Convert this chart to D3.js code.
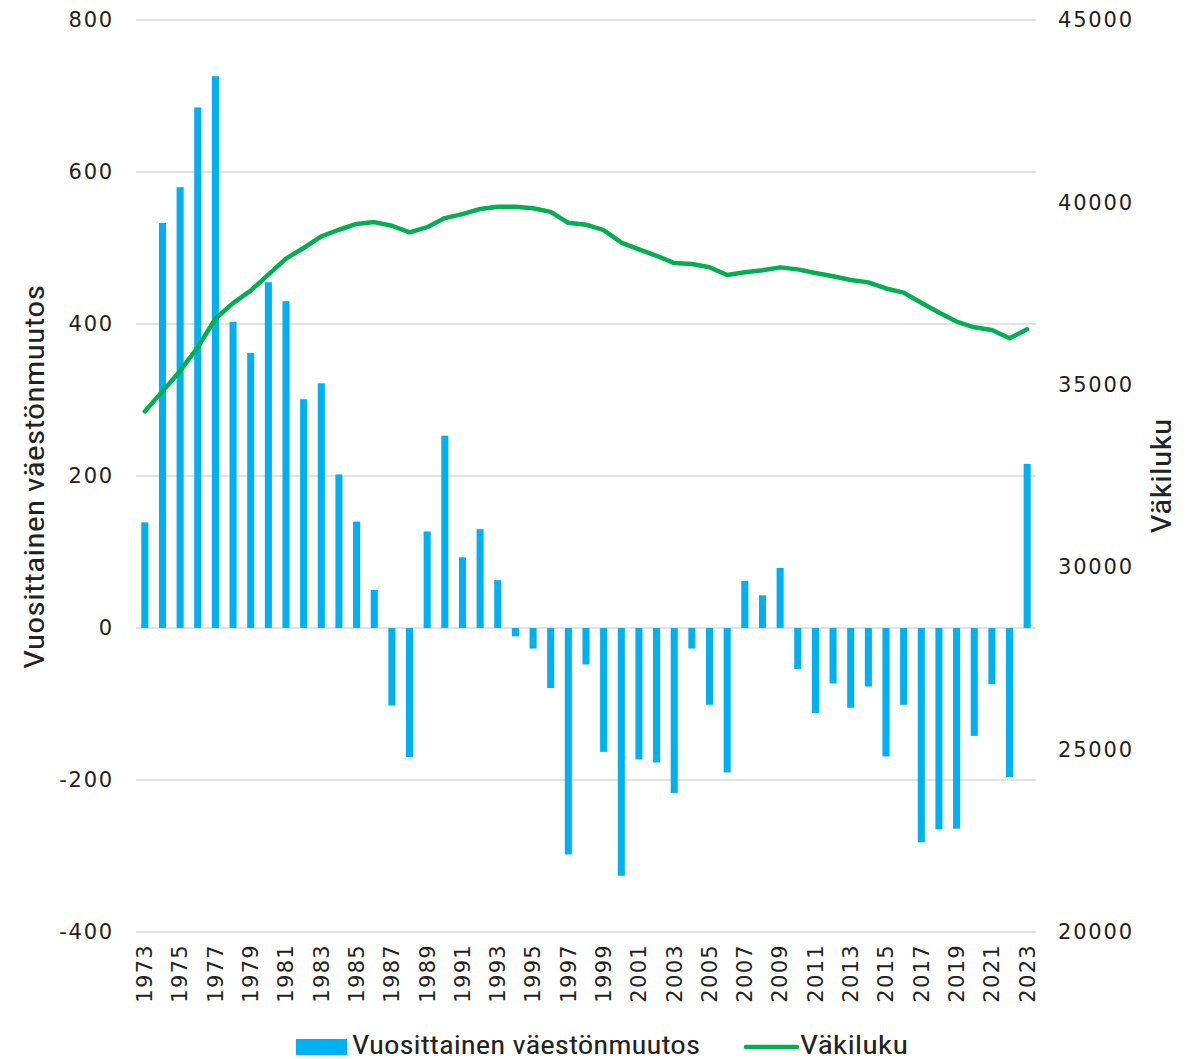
<!DOCTYPE html>
<html><head><meta charset="utf-8">
<script src="https://cdn.jsdelivr.net/npm/d3@7"></script>
<style>body{margin:0;background:#fff}svg{display:block}</style>
</head><body>
<svg id="c" width="1194" height="1059"></svg>
<script>
const years = d3.range(1973, 2024);
const change = [139,533,580,685,726,403,362,455,430,301,322,202,140,50,-102,-170,127,253,
  93,130,63,-11,-27,-79,-298,-48,-163,-326,-173,-177,-217,-27,-101,-190,
  62,43,79,-54,-112,-73,-105,-77,-169,-101,-282,-265,-264,-142,-74,-196,216];
const population = [34270,34820,35380,36030,36810,37240,37580,38020,38460,38750,39070,39250,39410,39460,39360,39180,39320,39570,
  39680,39820,39880,39880,39840,39740,39440,39390,39240,38900,38715,38537,38337,38312,38224,38010,
  38087,38142,38219,38164,38063,37975,37873,37808,37640,37528,37248,36980,36733,36577,36500,36276,36522];
const leftTicks = [-400,-200,0,200,400,600,800];
const rightTicks = [20000,25000,30000,35000,40000,45000];
const barName = "Vuosittainen väestönmuutos";
const lineName = "Väkiluku";

const svg = d3.select("#c");
const L = 136, R = 1036, T = 20, B = 932;
const x = d3.scaleBand().domain(years).range([L, R]).paddingInner(0.6).paddingOuter(0.3);
const yL = d3.scaleLinear().domain([-400, 800]).range([B, T]);
const yR = d3.scaleLinear().domain([20000, 45000]).range([B, T]);
const tickFont = "'DejaVu Sans', sans-serif";
const narrow = "'Liberation Sans Narrow', 'Roboto Condensed', 'Liberation Sans', sans-serif";

// gridlines
svg.append("g").selectAll("line").data(leftTicks).join("line")
  .attr("x1", L).attr("x2", R).attr("y1", d => yL(d)).attr("y2", d => yL(d))
  .attr("stroke", "#d9d9d9").attr("stroke-width", 1.5);

// left axis
const gl = svg.append("g").attr("transform", `translate(${L},0)`)
  .call(d3.axisLeft(yL).tickValues(leftTicks).tickSize(0).tickPadding(22).tickFormat(d => String(d)));
gl.select(".domain").remove();
gl.selectAll("text").attr("font-family", tickFont).attr("font-size", 21).attr("fill", "#222")
  .attr("letter-spacing", 1.8);

// right axis
const gr = svg.append("g").attr("transform", `translate(${R},0)`)
  .call(d3.axisRight(yR).tickValues(rightTicks).tickSize(0).tickPadding(22).tickFormat(d => String(d)));
gr.select(".domain").remove();
gr.selectAll("text").attr("font-family", tickFont).attr("font-size", 21).attr("fill", "#222")
  .attr("letter-spacing", 1.8);

// bars
svg.append("g").selectAll("rect").data(years).join("rect")
  .attr("x", d => x(d))
  .attr("width", x.bandwidth())
  .attr("y", (d, i) => yL(Math.max(0, change[i])))
  .attr("height", (d, i) => Math.abs(yL(change[i]) - yL(0)))
  .attr("fill", "#00B0F0");

// line
const line = d3.line().x((d, i) => x(years[i]) + x.bandwidth() / 2).y(d => yR(d));
svg.append("path").datum(population).attr("d", line)
  .attr("fill", "none").attr("stroke", "#00B050").attr("stroke-width", 4.5)
  .attr("stroke-linejoin", "round").attr("stroke-linecap", "round");

// x labels
const gx = svg.append("g").attr("transform", `translate(0,${B})`)
  .call(d3.axisBottom(x).tickValues(years.filter(y => (y - 1973) % 2 === 0)).tickSize(0).tickPadding(0));
gx.select(".domain").remove();
gx.selectAll("text").attr("font-family", tickFont).attr("font-size", 21).attr("fill", "#222")
  .attr("letter-spacing", 1.3)
  .attr("transform", "rotate(-90)").attr("text-anchor", "end")
  .attr("x", -12).attr("y", 0).attr("dy", "0.35em");

// axis titles
svg.append("text").attr("transform", "translate(44,477) rotate(-90)")
  .attr("text-anchor", "middle").attr("font-family", narrow).attr("font-size", 27).attr("fill", "#222")
  .attr("textLength", 384).attr("lengthAdjust", "spacingAndGlyphs")
  .text(barName);
svg.append("text").attr("transform", "translate(1171,476) rotate(-90)")
  .attr("text-anchor", "middle").attr("font-family", narrow).attr("font-size", 27).attr("fill", "#222")
  .attr("textLength", 115).attr("lengthAdjust", "spacingAndGlyphs")
  .text(lineName);

// legend
const lg = svg.append("g");
lg.append("rect").attr("x", 296).attr("y", 1039).attr("width", 51).attr("height", 16).attr("fill", "#00B0F0");
lg.append("text").attr("x", 352).attr("y", 1054).attr("font-family", narrow).attr("font-size", 25).attr("fill", "#222")
  .attr("textLength", 348).attr("lengthAdjust", "spacingAndGlyphs").text(barName);
lg.append("line").attr("x1", 746).attr("x2", 797).attr("y1", 1047).attr("y2", 1047)
  .attr("stroke", "#00B050").attr("stroke-width", 4.5).attr("stroke-linecap", "round");
lg.append("text").attr("x", 800).attr("y", 1054).attr("font-family", narrow).attr("font-size", 25).attr("fill", "#222")
  .attr("textLength", 108).attr("lengthAdjust", "spacingAndGlyphs").text(lineName);
</script>
</body></html>
